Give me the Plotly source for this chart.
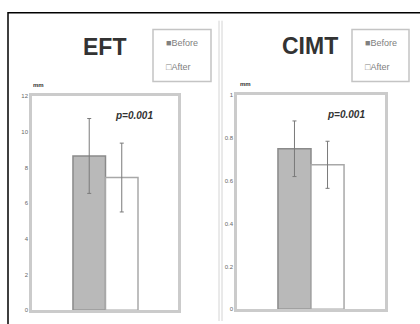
import plotly.graph_objects as go

# values (mean, sd)
groups = ["Before", "After"]
eft_mean = [8.65, 7.44]
eft_sd = [2.1, 1.93]
cimt_mean = [0.75, 0.675]
cimt_sd = [0.13, 0.11]
eft_ticks = [0, 2, 4, 6, 8, 10, 12]
cimt_ticks = [0, 0.2, 0.4, 0.6, 0.8, 1]
legend_labels = ["\u25a0Before", "\u25a1After"]

W, H = 420, 324
FONT = "Liberation Sans"

fills = {"Before": "#b9b9b9", "After": "#ffffff"}
edges = {"Before": "#8a8a8a", "After": "#a8a8a8"}


def px_x(v):
    return v / W


def px_y(v):
    return (H - v) / H


fig = go.Figure()

panels = [
    ("x", "y", eft_mean, eft_sd),
    ("x2", "y2", cimt_mean, cimt_sd),
]
for xa, ya, means, sds in panels:
    for i, g in enumerate(groups):
        fig.add_trace(go.Bar(
            x=[g], y=[means[i]], name=g, width=1, showlegend=False,
            marker=dict(color=fills[g], line=dict(color=edges[g], width=1.5)),
            error_y=dict(type="data", array=[sds[i]], color="#7a7a7a",
                         thickness=1, width=2),
            xaxis=xa, yaxis=ya,
        ))

axis_style = dict(showline=True, mirror=True, linecolor="#cbcbcb", linewidth=2.5,
                  showgrid=False, zeroline=False, ticks="",
                  tickfont=dict(family=FONT, size=6, color="#666"))

fig.update_layout(
    width=W, height=H,
    margin=dict(l=0, r=0, t=0, b=0),
    paper_bgcolor="white", plot_bgcolor="white",
    barmode="overlay",
    xaxis=dict(domain=[px_x(32), px_x(178)], range=[-1.76, 2.73],
               showticklabels=False, anchor="y", **axis_style),
    yaxis=dict(domain=[px_y(313), px_y(95)], range=[0, 12], tickvals=eft_ticks,
               anchor="x", **axis_style),
    xaxis2=dict(domain=[px_x(237), px_x(385)], range=[-1.74, 2.74],
                showticklabels=False, anchor="y2", **axis_style),
    yaxis2=dict(domain=[px_y(312), px_y(94)], range=[0, 1], tickvals=cimt_ticks,
                anchor="x2", **axis_style),
)

# titles, p values, units
notes = [
    ("EFT", 104, 45, 23, "<b>%s</b>"),
    ("CIMT", 310, 44, 23, "<b>%s</b>"),
    ("p=0.001", 134, 115, 10, "<b><i>%s</i></b>"),
    ("p=0.001", 346, 114, 10, "<b><i>%s</i></b>"),
    ("mm", 38, 84, 6, "<b>%s</b>"),
    ("mm", 245, 83, 6, "<b>%s</b>"),
]
for txt, x, y, size, fmt in notes:
    fig.add_annotation(text=fmt % txt, x=px_x(x), y=px_y(y), xref="paper", yref="paper",
                       xanchor="center", yanchor="middle", showarrow=False,
                       font=dict(family=FONT, size=size, color="#333"))

# legend boxes drawn like the original (symbol glyph + label)
for bx0, bx1 in ((153, 211), (352, 409)):
    fig.add_shape(type="rect", xref="paper", yref="paper", x0=px_x(bx0), x1=px_x(bx1),
                  y0=px_y(80), y1=px_y(27), line=dict(color="#c4c4c4", width=1.5))
    for lab, ly in zip(legend_labels, (41, 65)):
        fig.add_annotation(text=lab, x=px_x(bx0 + 11), y=px_y(ly), xref="paper", yref="paper",
                           xanchor="left", yanchor="middle", showarrow=False,
                           font=dict(family=FONT, size=9, color="#808080"))

# outer frame and panel separator
fig.add_shape(type="rect", xref="paper", yref="paper", x0=px_x(8), x1=1.02,
              y0=-0.02, y1=px_y(10), line=dict(color="black", width=1.5))
for sx in (219, 222):
    fig.add_shape(type="line", xref="paper", yref="paper", x0=px_x(sx), x1=px_x(sx),
                  y0=0, y1=px_y(18), line=dict(color="#d4d4d4", width=1))

fig.write_html("out.html", config={"displayModeBar": False},
               post_script="document.body.style.margin='0';document.body.style.overflow='hidden';")
